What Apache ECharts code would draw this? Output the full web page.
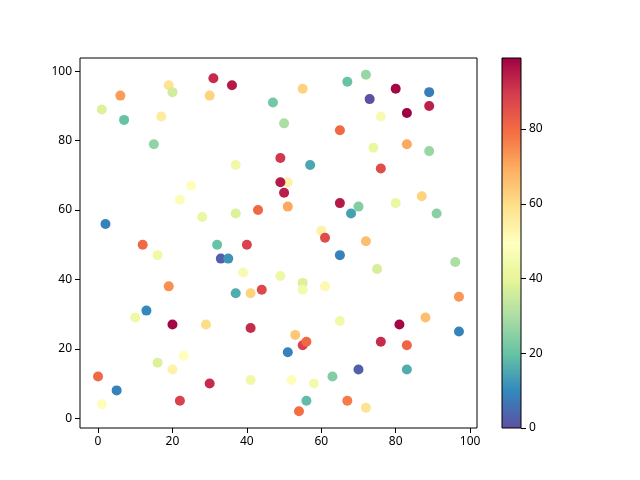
<!DOCTYPE html>
<html><head><meta charset="utf-8">
<script src="https://cdn.jsdelivr.net/npm/echarts@6/dist/echarts.min.js"></script>
<style>html,body{margin:0;padding:0;background:#fff}#c{width:640px;height:480px}</style>
</head><body><div id="c"></div>
<script>
// scatter points: x, y, colour value
const xs = [0,1,1,2,5,6,7,10,12,13,15,16,16,17,19,19,20,20,20,22,22,23,25,28,29,30,30,31,32,33,35,36,37,37,37,39,40,41,41,41,43,44,47,49,49,51,49,50,50,51,51,52,53,54,55,55,55,55,56,56,57,58,60,61,61,63,65,65,65,65,67,67,68,70,70,72,72,72,73,74,75,76,76,76,80,80,81,83,83,83,83,87,88,89,89,89,91,96,97,97];
const ys = [12,4,89,56,8,93,86,29,50,31,79,47,16,87,96,38,94,27,14,5,63,18,67,58,27,93,10,98,50,46,46,96,36,73,59,42,50,36,26,11,60,37,91,75,41,68,68,85,65,61,19,11,24,2,95,39,37,21,22,5,73,10,54,52,38,12,83,62,47,28,97,5,59,61,14,99,51,3,92,78,43,87,72,22,95,62,27,88,79,21,14,64,29,94,90,77,59,45,35,25];
const cs = [80,50,38,9,9,72,20,43,80,10,26,44,38,56,58,74,36,98,54,88,48,49,50,42,60,62,92,92,20,3,12,95,16,44,38,46,88,62,92,44,80,87,22,90,43,54,95,30,94,70,9,50,64,79,62,38,45,88,80,19,15,45,54,86,52,24,80,95,9,44,20,77,14,24,3,27,66,58,0,42,37,46,86,92,98,42,98,99,70,81,16,62,66,8,94,27,25,30,73,9];
const xTicks = [0,20,40,60,80,100];
const yTicks = [0,20,40,60,80,100];
const cbTicks = [0,20,40,60,80];
const cmap = ['#5e4fa2','#3288bd','#66c2a5','#abdda4','#e6f598','#ffffbf','#fee08b','#fdae61','#f46d43','#d53e4f','#9e0142'];

const pts = xs.map((x,i)=>[x, ys[i], cs[i]]);
const cMin = 0, cMax = 99;
const font = {fontFamily:'Noto Sans', fontSize:12, color:'#000'};
const stops = cmap.slice().reverse().map((c,i)=>({offset:i/(cmap.length-1), color:c}));

const chart = echarts.init(document.getElementById('c'));
chart.setOption({
  animation:false,
  backgroundColor:'#fff',
  grid:[
    {left:80, right:163, top:58, bottom:52, show:true, borderColor:'#000', borderWidth:1, backgroundColor:'transparent'},
    {left:502, width:19, top:58, bottom:52, show:true, borderColor:'#000', borderWidth:1,
     backgroundColor:{type:'linear', x:0, y:0, x2:0, y2:1, colorStops:stops}}
  ],
  xAxis:[
    {type:'value', gridIndex:0, min:-4.85, max:101.85,
     axisLine:{show:false, onZero:false}, splitLine:{show:false},
     axisTick:{show:true, inside:false, length:5, lineStyle:{color:'#000'}, customValues:xTicks},
     axisLabel:Object.assign({margin:8, customValues:xTicks}, font)},
    {type:'value', gridIndex:1, show:false, min:0, max:1}
  ],
  yAxis:[
    {type:'value', gridIndex:0, min:-2.85, max:103.85,
     axisLine:{show:false, onZero:false}, splitLine:{show:false},
     axisTick:{show:true, inside:false, length:5, lineStyle:{color:'#000'}, customValues:yTicks},
     axisLabel:Object.assign({margin:8, customValues:yTicks}, font)},
    {type:'value', gridIndex:1, position:'right', min:cMin, max:cMax,
     axisLine:{show:false, onZero:false}, splitLine:{show:false},
     axisTick:{show:true, inside:false, length:5, lineStyle:{color:'#000'}, customValues:cbTicks},
     axisLabel:Object.assign({margin:8, customValues:cbTicks}, font)}
  ],
  visualMap:{type:'continuous', show:false, min:cMin, max:cMax, dimension:2, seriesIndex:0,
    inRange:{color:cmap}},
  series:[{type:'scatter', xAxisIndex:0, yAxisIndex:0, data:pts, symbolSize:10,
    itemStyle:{opacity:1}}]
});
</script></body></html>
